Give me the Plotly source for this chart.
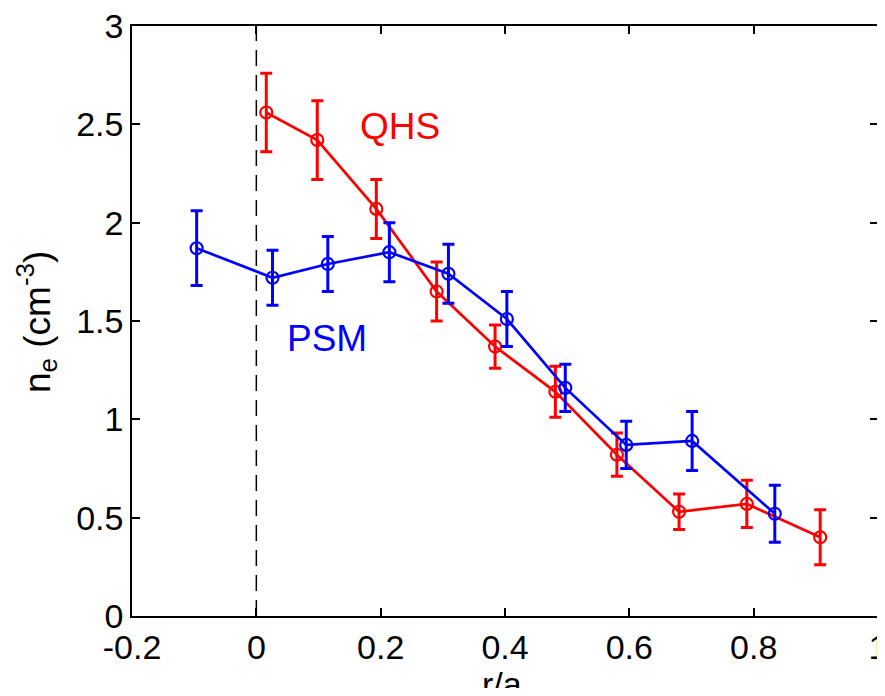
import plotly.graph_objects as go

# QHS (red)
qhs_x = [0.016, 0.098, 0.193, 0.290, 0.384, 0.481, 0.580, 0.680, 0.789, 0.907]
qhs_y = [2.56, 2.42, 2.07, 1.65, 1.37, 1.14, 0.82, 0.53, 0.57, 0.40]
qhs_err = [0.20, 0.20, 0.15, 0.15, 0.11, 0.13, 0.11, 0.09, 0.12, 0.14]

# PSM (blue)
psm_x = [-0.096, 0.026, 0.115, 0.214, 0.309, 0.403, 0.497, 0.595, 0.701, 0.834]
psm_y = [1.87, 1.72, 1.79, 1.85, 1.74, 1.51, 1.16, 0.87, 0.89, 0.52]
psm_err = [0.19, 0.14, 0.14, 0.15, 0.15, 0.14, 0.12, 0.12, 0.15, 0.145]

x_ticks = [-0.2, 0, 0.2, 0.4, 0.6, 0.8, 1]
x_tick_text = ["-0.2", "0", "0.2", "0.4", "0.6", "0.8", "1"]
y_ticks = [0, 0.5, 1, 1.5, 2, 2.5, 3]
y_tick_text = ["0", "0.5", "1", "1.5", "2", "2.5", "3"]

RED = "#ff0000"
BLUE = "#0000ff"
FONT = "Liberation Sans, Arial, sans-serif"

# the page body adds an 8px margin around the figure
OFF = 8
W, H = 877, 680
L, R, T, B = 124, 7, 18, 72
PW, PH = W - L - R, H - T - B

def px_x(p):
    return (p - OFF - L) / PW

def px_y(p):
    return (OFF + T + PH - p) / PH

fig = go.Figure()

def add_series(x, y, err, color):
    fig.add_trace(go.Scatter(
        x=x, y=y, mode="lines+markers",
        line=dict(color=color, width=2.7),
        marker=dict(symbol="circle-open", size=12, color=color,
                    line=dict(color=color, width=2.2)),
        error_y=dict(type="data", array=err, visible=True,
                     color=color, thickness=3, width=6),
        showlegend=False,
    ))

add_series(qhs_x, qhs_y, qhs_err, RED)
add_series(psm_x, psm_y, psm_err, BLUE)

fig.add_shape(type="line", x0=0, x1=0, y0=0, y1=3, xref="x", yref="y",
              line=dict(color="black", width=1.5, dash="16px,9px"), layer="below")

fig.add_annotation(x=0.2315, y=2.49, xref="x", yref="y", text="QHS",
                   showarrow=False, font=dict(family=FONT, size=37, color=RED))
fig.add_annotation(x=0.114, y=1.41, xref="x", yref="y", text="PSM",
                   showarrow=False, font=dict(family=FONT, size=37, color=BLUE))

# axis titles as annotations (pixel-positioned)
fig.add_annotation(x=px_x(36), y=px_y(322), xref="paper", yref="paper",
                   text="n<sub>e</sub> (cm<sup>-3</sup>)", showarrow=False, textangle=-90,
                   xanchor="center", yanchor="middle",
                   font=dict(family=FONT, size=37, color="black"))
fig.add_annotation(x=px_x(502), y=px_y(684), xref="paper", yref="paper",
                   text="r/a", showarrow=False, xanchor="center", yanchor="middle",
                   font=dict(family=FONT, size=34, color="black"))

axis_common = dict(
    showline=True, linecolor="black", linewidth=1.5, mirror="ticks",
    ticks="inside", ticklen=8, tickwidth=1.5, tickcolor="black",
    showgrid=False, zeroline=False, automargin=False,
    ticklabeloverflow="allow",
    tickfont=dict(family=FONT, size=34, color="black"),
)

fig.update_layout(
    width=W, height=H,
    margin=dict(l=L, r=R, t=T, b=B),
    paper_bgcolor="white", plot_bgcolor="white",
    xaxis=dict(range=[-0.2, 1], tickvals=x_ticks, ticktext=x_tick_text, **axis_common),
    yaxis=dict(range=[0, 3], tickvals=y_ticks, ticktext=y_tick_text, **axis_common),
)

fig.write_html("out.html")
